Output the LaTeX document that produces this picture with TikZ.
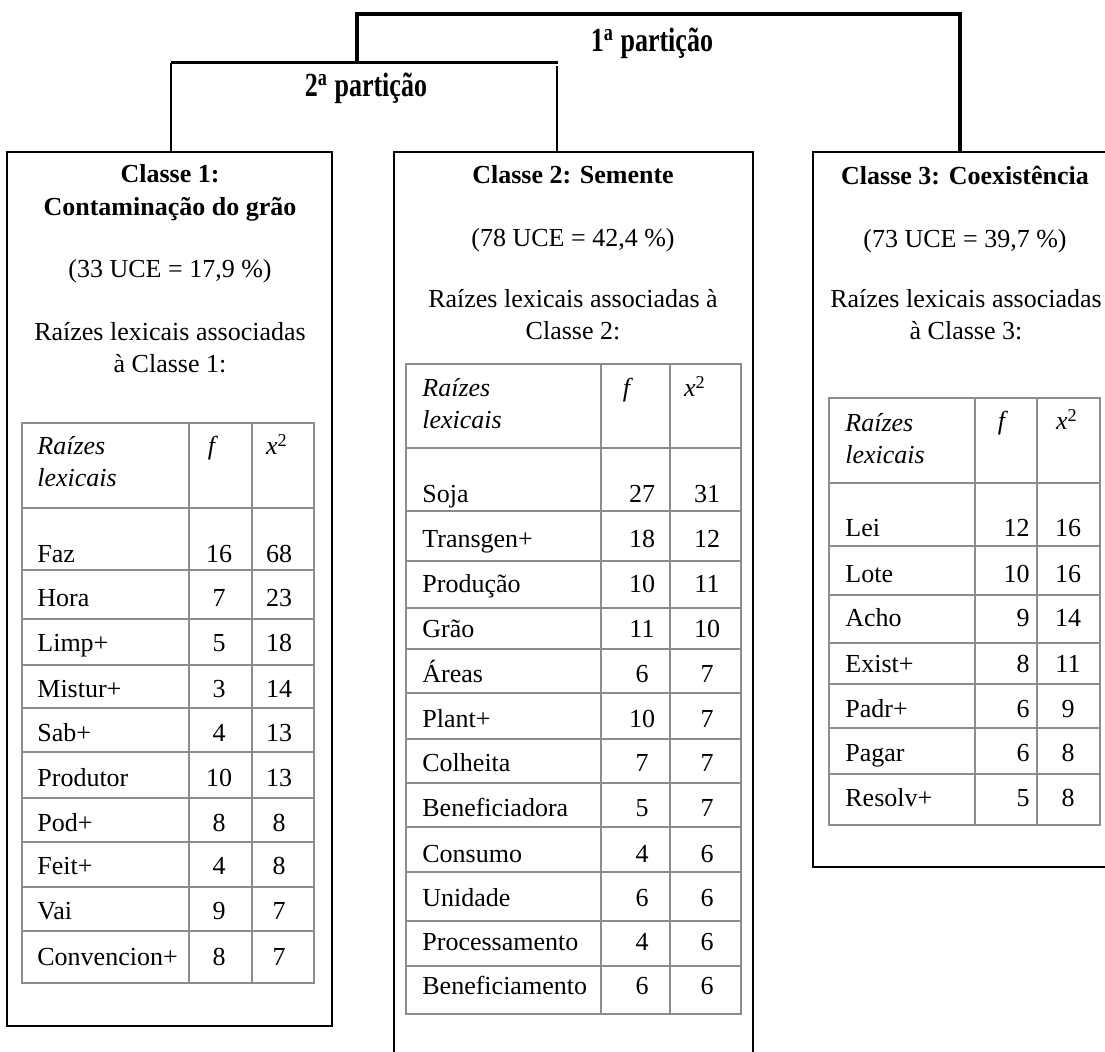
\documentclass[tikz,border=0pt]{standalone}
\usepackage{fontspec}
\setmainfont{Liberation Serif}
\usepackage{tikz}

\begin{document}
\begin{tikzpicture}[x=0.5pt,y=-0.5pt,
	every node/.style={inner sep=0pt},
	classbox/.style={rectangle,draw,line width=0.9pt},
	txt/.style={align=center,anchor=base,font=\fontsize{13pt}{16pt}\selectfont},
	title/.style={align=center,anchor=base,font=\fontsize{13pt}{16.5pt}\selectfont\bfseries},
	hd/.style={align=left,anchor=base west,font=\fontsize{13pt}{16pt}\selectfont\itshape},
	grid/.style={draw=black!45,line width=0.6pt},
	bar/.style={line width=2pt}
	]
	\useasboundingbox (0,0) rectangle (1105,1052);

	% class boxes
	\node [classbox,minimum width=162.5pt,minimum height=437pt] (c1) at (169.5,589) {};
	\node [classbox,minimum width=179.5pt,minimum height=454pt] (c2) at (573.5,606) {};
	\node [classbox,minimum width=149.5pt,minimum height=357.5pt] (c3) at (962.5,509.5) {};

	\node [title] (t1) at (170,216) {Classe 1:\\Contaminação do grão};
	\node [txt] (u1) at (170,278) {(33 UCE = 17,9 \%)};
	\node [txt] (r1) at (170,373) {Raízes lexicais associadas\\à Classe 1:};
	\node [title] (t2) at (573,184) {Classe 2: Semente};
	\node [txt] (u2) at (573,247) {(78 UCE = 42,4 \%)};
	\node [txt] (r2) at (573,340) {Raízes lexicais associadas à\\Classe 2:};
	\node [title] (t3) at (965,185) {Classe 3: Coexistência};
	\node [txt] (u3) at (965,248) {(73 UCE = 39,7 \%)};
	\node [txt] (r3) at (966,340) {Raízes lexicais associadas\\à Classe 3:};

	% partitions
	\node [title] (p1) at (652,52) {\scalebox{1}[1.3]{1\textsuperscript{a} partição}};
	\node [title] (p2) at (366,97) {\scalebox{1}[1.3]{2\textsuperscript{a} partição}};
	\coordinate (j1l) at (357,14);
	\coordinate (j1r) at (960,14);
	\coordinate (j2l) at (171,63);
	\coordinate (j2r) at (557,63);
	\draw [bar] (j1l |- j2l) -- (j1l) -- (j1r) -- (j1r |- c3.north);
	\draw [line width=1.5pt] (j2l) -- ([xshift=0.5pt]j2r);
	\draw [line width=1pt] (j2l) -- (j2l |- c1.north);
	\draw [line width=1pt] ([yshift=-1.5pt]j2r) -- (j2r |- c2.north);

	% table 1
	\draw [grid] (22,423) rectangle (314,983);
	\draw [grid] (189,423) -- (189,983) (252,423) -- (252,983);
	\foreach \y in {508,570,619,665,708,752,798,842,887,931}
		\draw [grid] (22,\y) -- (314,\y);
	\node [hd] (h1) at (37,487) {Raízes\\lexicais};
	\node [txt] (hf1) at (213,455) {\textit{f}};
	\node [txt] (hx1) at (277,455) {\textit{x}\textsuperscript{2}};
	\foreach \w/\f/\c/\y [count=\i] in {Faz/16/68/563, Hora/7/23/607, Limp+/5/18/652,
		Mistur+/3/14/698, Sab+/4/13/742, Produtor/10/13/787, Pod+/8/8/832,
		Feit+/4/8/875, Vai/9/7/920, Convencion+/8/7/966}{
		\node [txt,anchor=base west] (a-w\i) at (37,\y) {\w};
		\node [txt] (a-f\i) at (219,\y) {\f};
		\node [txt] (a-x\i) at (279,\y) {\c};
	}

	% table 2
	\draw [grid] (406,364) rectangle (741,1014);
	\draw [grid] (601,364) -- (601,1014) (670,364) -- (670,1014);
	\foreach \y in {448,511,561,608,649,693,739,783,827,872,921,966}
		\draw [grid] (406,\y) -- (741,\y);
	\node [hd] (h2) at (422,429) {Raízes\\lexicais};
	\node [txt] (hf2) at (628,397) {\textit{f}};
	\node [txt] (hx2) at (695,397) {\textit{x}\textsuperscript{2}};
	\foreach \w/\f/\c/\y [count=\i] in {Soja/27/31/503, Transgen+/18/12/548,
		Produção/10/11/593, Grão/11/10/638, Áreas/6/7/683, Plant+/10/7/728,
		Colheita/7/7/772, Beneficiadora/5/7/817, Consumo/4/6/863, Unidade/6/6/907,
		Processamento/4/6/951, Beneficiamento/6/6/995}{
		\node [txt,anchor=base west] (b-w\i) at (422,\y) {\w};
		\node [txt] (b-f\i) at (642,\y) {\f};
		\node [txt] (b-x\i) at (707,\y) {\c};
	}

	% table 3
	\draw [grid] (829,398) rectangle (1100,825);
	\draw [grid] (975,398) -- (975,825) (1037,398) -- (1037,825);
	\foreach \y in {483,546,595,643,684,728,774}
		\draw [grid] (829,\y) -- (1100,\y);
	\node [hd] (h3) at (845,464) {Raízes\\lexicais};
	\node [txt] (hf3) at (1003,430) {\textit{f}};
	\node [txt] (hx3) at (1067,430) {\textit{x}\textsuperscript{2}};
	\foreach \w/\f/\c/\y [count=\i] in {Lei/12/16/537, Lote/10/16/583, Acho/9/14/627,
		Exist+/8/11/673, Padr+/6/9/718, Pagar/6/8/762, Resolv+/5/8/807}{
		\node [txt,anchor=base west] (c-w\i) at (845,\y) {\w};
		\node [txt,anchor=base east] (c-f\i) at (1030,\y) {\f};
		\node [txt] (c-x\i) at (1068,\y) {\c};
	}

\end{tikzpicture}
\end{document}
